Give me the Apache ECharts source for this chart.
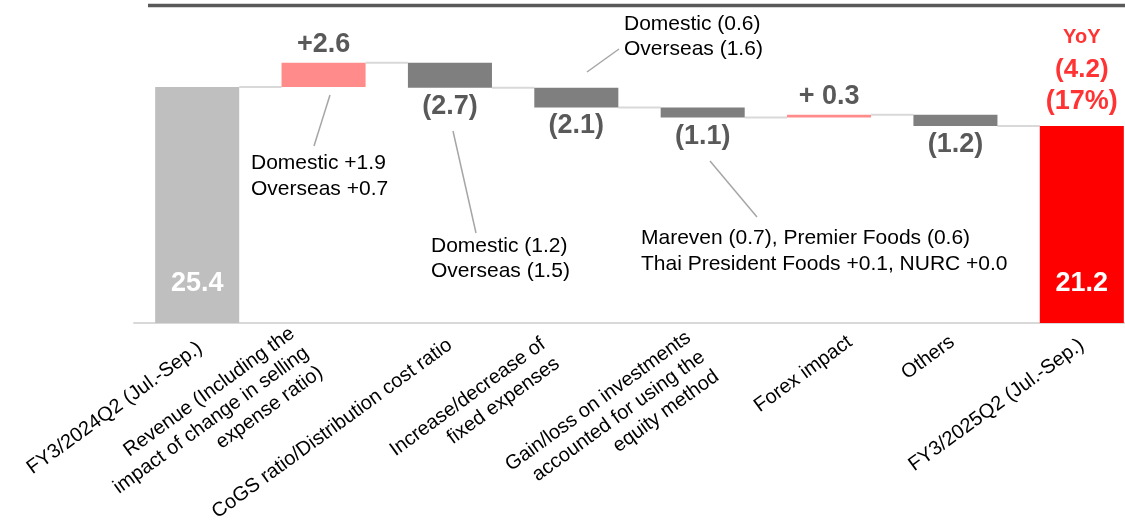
<!DOCTYPE html>
<html>
<head>
<meta charset="utf-8">
<script src="https://cdn.jsdelivr.net/npm/echarts@6/dist/echarts.min.js"></script>
<style>
  html, body { margin: 0; padding: 0; background: #fff; overflow: hidden; width: 1125px; height: 525px; }
  /* the plot's last band runs slightly past the visible page edge */
  #chart { width: 1145px; height: 525px; }
</style>
</head>
<body>
<div id="chart"></div>
<script>
// Operating profit bridge, FY3/2024Q2 -> FY3/2025Q2 (Jul.-Sep.)
const categories = [
  'FY3/2024Q2 (Jul.-Sep.)',
  'Revenue (Including the\nimpact of change in selling\nexpense ratio)',
  'CoGS ratio/Distribution cost ratio',
  'Increase/decrease of\nfixed expenses',
  'Gain/loss on investments\naccounted for using the\nequity method',
  'Forex impact',
  'Others',
  'FY3/2025Q2 (Jul.-Sep.)'
];
const startValue = 25.4;
const changes = [2.6, -2.7, -2.1, -1.1, 0.3, -1.2];
const endValue = 21.2;
const changeText = ['+2.6', '(2.7)', '(2.1)', '(1.1)', '+ 0.3', '(1.2)'];

const FONT = '"Liberation Sans", Arial, Helvetica, sans-serif';
const COLOR_START = '#bfbfbf';
const COLOR_UP = '#ff8b8b';
const COLOR_DOWN = '#7f7f7f';
const COLOR_END = '#ff0000';
const VALUE_GREY = '#595959';
const NOTE_FONT = '21px ' + FONT;

// running totals for the floating bars
const n = categories.length;
const base = [0];
const height = [startValue];
const levels = [startValue]; // level after each step
let running = startValue;
changes.forEach(c => {
  const next = +(running + c).toFixed(1);
  base.push(c >= 0 ? running : next);
  height.push(Math.abs(c));
  levels.push(next);
  running = next;
});
base.push(0);
height.push(endValue);
levels.push(endValue);

const visibleData = height.map((h, i) => {
  const isTotal = i === 0 || i === n - 1;
  const c = isTotal ? 0 : changes[i - 1];
  const color = i === 0 ? COLOR_START : i === n - 1 ? COLOR_END : (c >= 0 ? COLOR_UP : COLOR_DOWN);
  const label = isTotal
    ? { show: true, position: 'insideBottom', distance: 26, color: '#fff', fontSize: 27, fontWeight: 'bold',
        fontFamily: FONT, formatter: () => (i === 0 ? startValue : endValue).toFixed(1) }
    : { show: true, position: c >= 0 ? 'top' : 'bottom', distance: 5, color: VALUE_GREY, fontSize: 27,
        fontWeight: 'bold', fontFamily: FONT, formatter: () => changeText[i - 1] };
  return { value: h, itemStyle: { color }, label };
});

const diff = endValue - startValue;
const pct = Math.round(Math.abs(diff) / startValue * 100);
const yoyText = '{a|YoY}\n{b|' + (diff < 0 ? '(' + Math.abs(diff).toFixed(1) + ')' : '+' + diff.toFixed(1)) +
  '}\n{c|' + (diff < 0 ? '(' + pct + '%)' : '+' + pct + '%') + '}';

// per-label nudges of the rotated category labels [dx, dy]
const tickNudge = [[3, 3], [-17, 8], [0, 0], [-26, 9], [0, 12], [21, -3], [-3, -3], [0, 0]];
const labelRotate = 36 * Math.PI / 180;

const chart = echarts.init(document.getElementById('chart'), null, { renderer: 'canvas' });
chart.setOption({
  animation: false,
  backgroundColor: '#fff',
  grid: { left: 134, top: 7, width: 1011, height: 316, containLabel: false },
  xAxis: {
    type: 'category',
    data: categories,
    axisLine: { show: true, lineStyle: { color: '#d9d9d9', width: 2 } },
    axisTick: { show: false },
    axisLabel: { show: false },
    splitLine: { show: false }
  },
  yAxis: {
    type: 'value', min: 0, max: 34, interval: 2,
    show: false, splitLine: { show: false }
  },
  series: [
    {
      name: 'base', type: 'bar', stack: 'bridge', barWidth: '66.5%', silent: true,
      itemStyle: { color: 'transparent' }, data: base
    },
    {
      name: 'value', type: 'bar', stack: 'bridge', barWidth: '66.5%', silent: true,
      data: visibleData
    },
    {
      // connectors between neighbouring bars
      name: 'connector', type: 'custom', silent: true, z: 1,
      data: levels.slice(0, n - 1).map((v, i) => [i, v]),
      renderItem: (params, api) => {
        const i = api.value(0);
        const p = api.coord([i, api.value(1)]);
        const band = api.size([1, 0])[0];
        const half = band * 0.665 / 2;
        return {
          type: 'line',
          shape: { x1: p[0] + half, y1: p[1], x2: p[0] + band - half, y2: p[1] },
          style: { stroke: '#d9d9d9', lineWidth: 2 }
        };
      }
    },
    {
      // rotated category labels
      name: 'ticks', type: 'custom', silent: true, clip: false,
      data: categories.map((c, i) => [i, 0]),
      renderItem: (params, api) => {
        const i = api.value(0);
        const p = api.coord([i, 0]);
        return {
          type: 'text',
          x: p[0] + tickNudge[i][0],
          y: p[1] + 20 + tickNudge[i][1],
          rotation: labelRotate,
          style: {
            text: categories[i], fill: '#000', font: '20px ' + FONT, lineHeight: 24,
            align: 'right', verticalAlign: 'middle', textAlign: 'right', textVerticalAlign: 'middle'
          }
        };
      }
    },
    {
      name: 'yoy', type: 'scatter', silent: true, symbolSize: 0,
      data: [[n - 1, endValue]],
      label: {
        show: true, position: 'top', distance: 9, formatter: () => yoyText,
        rich: {
          a: { fontSize: 20, fontWeight: 'bold', color: COLOR_END, fontFamily: FONT, lineHeight: 33, align: 'center' },
          b: { fontSize: 26, fontWeight: 'bold', color: COLOR_END, fontFamily: FONT, lineHeight: 32, align: 'center' },
          c: { fontSize: 27, fontWeight: 'bold', color: COLOR_END, fontFamily: FONT, lineHeight: 31, align: 'center' }
        }
      }
    }
  ],
  graphic: [
    { type: 'line', z: 10, shape: { x1: 148, y1: 5.5, x2: 1145, y2: 5.5 }, style: { stroke: '#595959', lineWidth: 3.5 } },
    { type: 'line', shape: { x1: 330, y1: 95, x2: 314, y2: 146 }, style: { stroke: '#a6a6a6', lineWidth: 1.5 } },
    { type: 'text', x: 251, y: 176, style: { text: 'Domestic +1.9\nOverseas +0.7', font: NOTE_FONT, fill: '#000', lineHeight: 25.5, verticalAlign: 'middle', textVerticalAlign: 'middle' } },
    { type: 'line', shape: { x1: 453, y1: 131, x2: 476, y2: 233 }, style: { stroke: '#a6a6a6', lineWidth: 1.5 } },
    { type: 'text', x: 431, y: 258.5, style: { text: 'Domestic (1.2)\nOverseas (1.5)', font: NOTE_FONT, fill: '#000', lineHeight: 25.5, verticalAlign: 'middle', textVerticalAlign: 'middle' } },
    { type: 'line', shape: { x1: 587, y1: 72, x2: 619, y2: 49 }, style: { stroke: '#a6a6a6', lineWidth: 1.5 } },
    { type: 'text', x: 624, y: 36.5, style: { text: 'Domestic (0.6)\nOverseas (1.6)', font: NOTE_FONT, fill: '#000', lineHeight: 25.5, verticalAlign: 'middle', textVerticalAlign: 'middle' } },
    { type: 'line', shape: { x1: 710, y1: 161, x2: 757, y2: 217 }, style: { stroke: '#a6a6a6', lineWidth: 1.5 } },
    { type: 'text', x: 641, y: 251.5, style: { text: 'Mareven (0.7), Premier Foods (0.6)\nThai President Foods +0.1, NURC +0.0', font: NOTE_FONT, fill: '#000', lineHeight: 26, verticalAlign: 'middle', textVerticalAlign: 'middle' } }
  ]
});
</script>
</body>
</html>
